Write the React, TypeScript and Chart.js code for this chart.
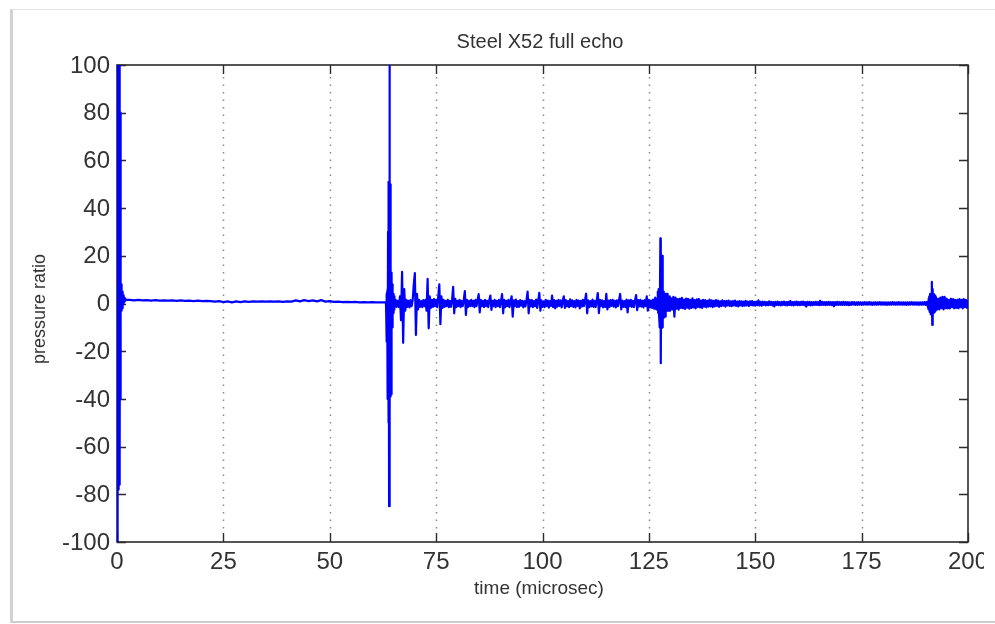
import { useEffect, useRef } from 'react';
import { Chart, registerables } from 'chart.js';

Chart.register(...registerables);

const TITLE = 'Steel X52 full echo';
const X_LABEL = 'time (microsec)';
const Y_LABEL = 'pressure ratio';

const xTicks = [0, 25, 50, 75, 100, 125, 150, 175, 200];
const yTicks = [100, 80, 60, 40, 20, 0, -20, -40, -60, -80, -100];

const pulseStart = 0;
const pulseStep = 0.05;
const pulseValues = [
  0, 140, -140, 140, -120, 140, -78, 130, -77, 120,
  -76, 110, -74, 100, -60, 80, -40, 9, -3, 8,
  -3, 7, -2, 6, -2, 5, -1, 4, -1, 3.5,
  0, 3, 0.5, 2.5, 0.8, 2.2, 1, 2, 1.2, 1.9,
  1.6,
];

const baselineStart = 3;
const baselineStep = 1;
const baselineValues = [
  1.5, 1.3, 1.5, 1.3, 1.4, 1.2, 1.4, 1.2, 1.3, 1.2,
  1.3, 1.1, 1.3, 1.1, 1.2, 1.0, 1.2, 1.0, 1.1, 1.0,
  0.8, 1.0, 0.6, 0.9, 0.5, 0.9, 0.6, 0.9, 0.7, 0.9,
  0.8, 0.9, 0.8, 0.9, 0.8, 0.9, 0.7, 0.9, 0.8, 1.3,
  0.9, 1.4, 1.0, 1.3, 0.9, 1.4, 0.8, 1.0, 0.7, 0.8,
  0.6, 0.7, 0.6, 0.7, 0.5, 0.6, 0.5, 0.6, 0.5, 0.5,
];

const firstEchoStart = 63.2;
const firstEchoStep = 0.05;
const firstEchoValues = [
  0.5, -2, 3, -5, 4, -16, 5, -17, 6, -40,
  30, -50, 45, -50, 51, -85, 140, -50, 51, -45,
  50, -39, 40, -39, 13, -38, 13, -20, 12, -10,
  8, -6, 5, -5, 4, -4, 3, -3, 3, -2.5,
  2,
];

const echoTrainStart = 65.25;
const echoTrainStep = 0.25;
const echoTrainValues = [
  -1.8, 1.5, -1.4, 1.1, -1.5, 3, -7, 13.3, -16.5, 6,
  -3, 1.5, -1.4, 1.1, -1.6, 1.4, -1.1, 1.5, 8, 12.7,
  -13.2, 4, -2.5, 1.5, -1.4, 1.0, -1.5, 1.4, -1.1, 1.5,
  -3, 10.3, -10.4, 3, -1.8, 1.5, -1.4, 1.8, -1.1, 1.5,
  -1.5, 3, 8, -8.7, 3, -1.8, 1.5, -1.4, 1.1, -1.1,
  1.5, -1.5, 1.1, -1.4, 1.5, 7, -4.1, 2, -1.5, 1.1,
  -1.1, 1.5, -1.5, 1.1, -1.1, 1.5, 5.2, -4.8, 1.5, -1.5,
  1.1, -1.1, 1.5, -1.1, 1.1, -1.5, 1.5, -1.1, 1.5, 3.9,
  -3.7, 1.5, -1.1, 1.1, -1.5, 1.5, -1.1, 1.1, -1.5, 1.5,
  3.3, -2.7, 1.1, -1.1, 1.5, -1.5, 1.1, -1.1, 1.5, -1.5,
  1.1, 3.9, -4.1, 1.5, -1.5, 1.1, -1.1, 1.5, -1.5, 1.1,
  3, -5.5,
];

const noiseStart = 93.25;
const noiseStep = 0.25;
const noiseValues = [
  1.3, -1.1, 1.6, -1.5, 1.0, -1.4, 1.4, -0.9,
  1.1, -1.6, 1.0, -1.2, 1.5, 5.0, -4.1, 1.5,
  -1.2, 1.4, -1.5, 1.0, -1.1, 1.6, -1.8, 1.2,
  4.5, -3.0, 1.3, -1.4, 0.9, -1.5, 1.5, -1.1,
  1.2, -1.7, 1.0, -1.0, 3.3, -1.5, 1.4, -2.0,
  1.1, -1.3, 1.5, -1.0, 1.3, -1.6, 0.9, 3.0,
  -1.8, 1.4, -1.2, 1.0, -1.5, 1.7, -1.1, 1.3,
  -1.4, 1.0, -1.6, 1.5, -1.0, 1.2, -2.0, 1.1,
  -1.3, 1.5, -1.1, 1.4, 4.1, -4.1, 1.3, -1.5,
  1.0, -1.2, 1.6, -1.4, 1.1, -1.5, 1.3, 4.4,
  -4.0, 1.5, -1.1, 1.3, -1.6, 1.0, -1.4, 4.0,
  -2.5, 1.2, -1.5, 1.4, -1.0, 1.5, -1.3, 1.1,
  -1.6, 1.3, -1.1, 1.5, 4.0, -2.5, 1.2, -1.4,
  1.0, -1.5, 1.6, -3.7, 1.3, -1.1, 1.5, -1.4,
  1.1, -1.5, 1.3, 3.5, -2.8, 1.4, -1.2, 1.5,
  -1.3, 1.1, -1.6, 1.4, -1.0, 3.0, -3.0, 1.5,
  -1.6, 1.2, -1.8, 1.6, -2.2, 2.5, -2.5, 2.0,
];

const secondEchoStart = 127.1;
const secondEchoStep = 0.1;
const secondEchoValues = [
  5, -4, 6, -5, 5.7, -10, 27.3, -25, 20,
  -10.4, 20, -10, 6, -6, 5, -5, 4, -5.5, 4,
  -4, 3, -3, 4, -3, 3, -3, 2.5, -2.5, 3,
  -3,
];

const tailStart = 130.25;
const tailStep = 0.25;
const tailValues = [
  2.2, -2.5, 2.8, -5.5, 2.5, -2.2, 1.8, -2.6,
  2.0, -1.8, 2.4, -2.0, 1.6, -2.3, 2.1, -1.7,
  1.9, -2.2, 1.5, -1.8, 2.2, -1.6, 1.4, -2.0,
  1.7, -1.4, 1.9, -1.6, 1.2, -1.8, 1.5, -1.3,
  1.4, -1.6, 1.1, -1.3, 1.6, -1.2, 1.3, -1.5,
  1.1, -1.2, 1.4, -1.0, 1.2, -1.4, 0.9, -1.1,
  1.3, -0.9, 1.0, -1.3, 1.1, -0.8, 1.2, -1.0,
  0.9, -1.1, 1.0, -0.8, 1.2, -1.0, 0.8, -1.2,
  1.0, -0.8, 0.9, -1.0, 0.8, -0.9, 1.1, -0.8,
  0.8, -1.0, 0.9, -0.7, 1.0, -0.8, 0.7, -0.9,
  0.8, -0.7, 1.3, -0.8, 0.7, -0.9, 0.8, -0.6,
  0.7, -0.8, 0.6, -0.7, 0.9, -0.6, 0.7, -0.8,
  0.6, -1.2, 0.7, -0.6, 0.8, -0.7, 0.6, -0.8,
  0.7, -0.6, 0.8, -0.7, 0.6, -0.8, 0.7, -0.6,
  1.0, -0.7, 0.6, -0.8, 0.7, -0.6, 0.8, -0.7,
  0.6, -0.7, 0.7, -0.6, 0.8, -0.7, 0.6, -1.3,
  0.7, -0.6, 0.7, -0.8, 0.6, -0.7, 0.6, -0.6,
  0.7, -0.6, 0.6, -0.7, 1.1, -0.6, 0.7, -0.6,
  0.6, -0.7, 0.6, -0.6, 0.7, -0.6, 0.6, -0.7,
  0.6, -1.1, 0.6, -0.6, 0.7, -0.6, 0.6, -0.6,
  0.6, -0.6, 0.7, -0.6, 0.6, -0.6, 0.6, -0.7,
  0.5, -0.6, 0.6, -0.5, 0.6, -0.6, 0.5, -0.6,
  0.6, -0.5, 0.5, -0.6, 0.5, -0.5, 0.6, -0.5,
  0.5, -0.5, 0.6, -0.5, 0.5, -0.6, 0.5, -0.5,
  0.5, -0.5, 0.5, -0.5, 0.6, -0.5, 0.5, -0.5,
  0.5, -0.5, 0.5, -0.6, 0.5, -0.5, 0.5, -0.5,
  0.6, -0.5, 0.5, -0.5, 0.5, -0.5, 0.6, -0.5,
  0.5, -0.5, 0.5, -0.5, 0.5, -0.6, 0.5, -0.5,
  0.5, -0.5, 0.6, -0.5, 0.5, -0.5, 0.5, -0.5,
  0.5, -0.6, 0.5, -0.5, 0.5, -0.5, 0.6, -0.6,
  0.7, -0.8,
];

const thirdEchoStart = 190.6;
const thirdEchoStep = 0.1;
const thirdEchoValues = [
  -1.5, 2, -2.5, 3, -3.5, 4, -4.5, 4, -4.7, 9.1,
  -9, 6, -4, 4, -4, 3.5, -3.5, 3, -3, 2.5,
];

const endStart = 192.75;
const endStep = 0.25;
const endValues = [
  -2.5, 2, -2.5, 2.5, -2, 2.8, -2.5, 2.8, -2, 2,
  -2, 1.5, -2, 2, -1.5, 1.8, -2, 1.5, -1.8, 1.5,
  -2, 1.8, -1.5, 1.5, -2, 1.8, -1.5, 1.5, -1.8, 1.5,
];

function segment(start: number, step: number, values: number[]) {
  return values.map((v, i) => ({ x: Math.round((start + i * step) * 1000) / 1000, y: v }));
}

const FONT = '"Liberation Sans", Arial, Helvetica, sans-serif';

const matlabAxes = {
  id: 'matlabAxes',
  beforeDatasetsDraw(chart: any) {
    const { ctx, chartArea: a, scales } = chart;
    const xs = scales.x;
    const ys = scales.y;
    ctx.save();
    // dotted vertical grid
    ctx.strokeStyle = '#8a8a8a';
    ctx.lineWidth = 1.5;
    ctx.setLineDash([1.5, 6]);
    for (const t of xTicks) {
      if (t === xTicks[0] || t === xTicks[xTicks.length - 1]) continue;
      const px = Math.round(xs.getPixelForValue(t)) + 0.5;
      ctx.beginPath();
      ctx.moveTo(px, a.top + 12);
      ctx.lineTo(px, a.bottom - 9);
      ctx.stroke();
    }
    ctx.setLineDash([]);
    // box
    ctx.strokeStyle = '#2b2b2b';
    ctx.lineWidth = 1.6;
    ctx.strokeRect(a.left, a.top, a.right - a.left, a.bottom - a.top);
    // inward ticks
    ctx.lineWidth = 1.4;
    const tl = 9;
    for (const t of xTicks) {
      const px = Math.round(xs.getPixelForValue(t)) + 0.5;
      ctx.beginPath();
      ctx.moveTo(px, a.bottom);
      ctx.lineTo(px, a.bottom - tl);
      ctx.moveTo(px, a.top);
      ctx.lineTo(px, a.top + tl);
      ctx.stroke();
    }
    for (const v of yTicks) {
      const py = Math.round(ys.getPixelForValue(v)) + 0.5;
      ctx.beginPath();
      ctx.moveTo(a.left, py);
      ctx.lineTo(a.left + tl, py);
      ctx.moveTo(a.right, py);
      ctx.lineTo(a.right - tl, py);
      ctx.stroke();
    }
    ctx.restore();
  },
  afterDraw(chart: any) {
    const { ctx, chartArea: a, scales } = chart;
    const xs = scales.x;
    const ys = scales.y;
    ctx.save();
    ctx.fillStyle = '#333333';
    // title
    ctx.font = `20px ${FONT}`;
    ctx.textAlign = 'center';
    ctx.textBaseline = 'alphabetic';
    ctx.fillText(TITLE, 540, 47.5);
    // y tick labels
    ctx.font = `24px ${FONT}`;
    ctx.textAlign = 'right';
    ctx.textBaseline = 'middle';
    for (const v of yTicks) {
      ctx.fillText(String(v), a.left - 7, ys.getPixelForValue(v) + 1);
    }
    // x tick labels
    ctx.textAlign = 'center';
    ctx.textBaseline = 'alphabetic';
    for (const t of xTicks) {
      ctx.fillText(String(t), xs.getPixelForValue(t), a.bottom + 27);
    }
    // x axis title
    ctx.font = `19px ${FONT}`;
    ctx.fillText(X_LABEL, 539, 594);
    // y axis title
    ctx.save();
    ctx.translate(40, 309);
    ctx.rotate(-Math.PI / 2);
    ctx.font = `18px ${FONT}`;
    ctx.textBaseline = 'middle';
    ctx.fillText(Y_LABEL, 0, 0);
    ctx.restore();
    ctx.restore();
  },
};

export default function App() {
  const ref = useRef<HTMLCanvasElement>(null);
  useEffect(() => {
    if (!ref.current) return;
    const points = [
      ...segment(pulseStart, pulseStep, pulseValues),
      ...segment(baselineStart, baselineStep, baselineValues),
      ...segment(firstEchoStart, firstEchoStep, firstEchoValues),
      ...segment(echoTrainStart, echoTrainStep, echoTrainValues),
      ...segment(noiseStart, noiseStep, noiseValues),
      ...segment(secondEchoStart, secondEchoStep, secondEchoValues),
      ...segment(tailStart, tailStep, tailValues),
      ...segment(thirdEchoStart, thirdEchoStep, thirdEchoValues),
      ...segment(endStart, endStep, endValues),
    ];
    const chart = new Chart(ref.current, {
      type: 'line',
      data: {
        datasets: [
          {
            label: 'pressure ratio',
            data: points,
            borderColor: '#0000ff',
            borderWidth: 2.2,
            borderJoinStyle: 'round',
            pointRadius: 0,
            tension: 0,
            fill: false,
          },
        ],
      },
      options: {
        animation: false,
        responsive: false,
        maintainAspectRatio: false,
        events: [],
        layout: { padding: { left: 117, right: 16, top: 65, bottom: 82 } },
        plugins: {
          legend: { display: false },
          tooltip: { enabled: false },
          title: { display: false },
        },
        scales: {
          x: {
            type: 'linear',
            min: 0,
            max: 200,
            grid: { display: false, drawTicks: false },
            border: { display: false },
            ticks: { display: false },
          },
          y: {
            type: 'linear',
            min: -100,
            max: 100,
            grid: { display: false, drawTicks: false },
            border: { display: false },
            ticks: { display: false },
          },
        },
      } as any,
      plugins: [matlabAxes],
    });
    return () => chart.destroy();
  }, []);

  return (
    <div
      style={{
        position: 'absolute',
        left: 0,
        top: 0,
        width: 995,
        height: 624,
        overflow: 'hidden',
        background: '#ffffff',
      }}
    >
      <div
        style={{
          position: 'absolute',
          left: 10,
          top: 9,
          width: 990,
          height: 611,
          borderLeft: '3px solid #d2d2d2',
          borderTop: '1px solid #e4e4e4',
          borderBottom: '2px solid #cdcdcd',
          background: '#ffffff',
        }}
      />
      <canvas
        ref={ref}
        width={984}
        height={624}
        style={{ position: 'absolute', left: 0, top: 0, width: 984, height: 624 }}
      />
    </div>
  );
}
